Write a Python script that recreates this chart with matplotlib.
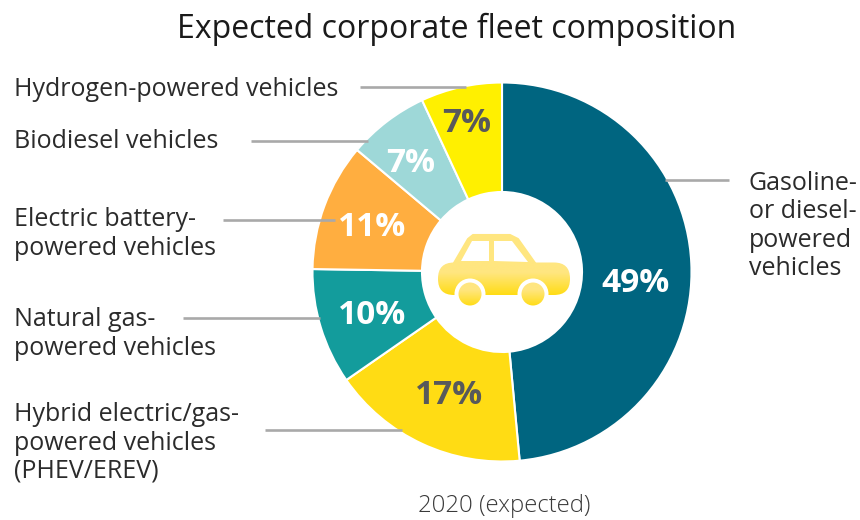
import numpy as np
import matplotlib
matplotlib.use("Agg")
import matplotlib.pyplot as plt
from matplotlib.colors import LinearSegmentedColormap
from matplotlib.patches import Circle, FancyBboxPatch, Polygon

plt.rcParams["font.family"] = ["Open Sans", "DejaVu Sans"]

# Fleet shares, clockwise from twelve o'clock
categories = [
    "Gasoline-\nor diesel-\npowered\nvehicles",
    "Hybrid electric/gas-\npowered vehicles\n(PHEV/EREV)",
    "Natural gas-\npowered vehicles",
    "Electric battery-\npowered vehicles",
    "Biodiesel vehicles",
    "Hydrogen-powered vehicles",
]
shares = [49, 17, 10, 11, 7, 7]
slice_colors = ["#006580", "#FFDC14", "#139C9C", "#FFAE40", "#9ED8D8", "#FFF000"]
value_colors = ["white", "#58595B", "white", "white", "white", "#58595B"]
title = "Expected corporate fleet composition"
caption = "2020 (expected)"

W, H = 860, 520
CX, CY, R_OUT, R_IN = 502, 272, 189.5, 80
TEXT = "#2B2B2B"
LEADER = "#A9A9A9"

fig = plt.figure(figsize=(W / 100, H / 100), dpi=100)

# Donut in its own axes, sized so that one data unit equals the outer radius
pie_ax = fig.add_axes([(CX - R_OUT) / W, 1 - (CY + R_OUT) / H, 2 * R_OUT / W, 2 * R_OUT / H])
wedges, _ = pie_ax.pie(
    shares,
    colors=slice_colors,
    startangle=90,
    counterclock=False,
    radius=1,
    wedgeprops=dict(width=1 - R_IN / R_OUT, edgecolor="white", linewidth=1.5),
)
pie_ax.set_xlim(-1, 1)
pie_ax.set_ylim(-1, 1)

# Overlay in pixel units for value labels, leaders, texts and the car icon
ov = fig.add_axes([0, 0, 1, 1], facecolor="none")
ov.axis("off")

value_pos = [(635, 283), (449, 395), (372, 316), (372, 227), (411, 163), (467, 123)]
for value, color, (x, y) in zip(shares, value_colors, value_pos):
    ov.text(x, y, f"{value}%", ha="center", va="center", fontsize=24,
            fontweight="bold", color=color, zorder=4)

# Leader lines: order follows categories
leaders = [((665, 729), 180), ((265, 402), 430), ((183, 320), 318),
           ((223, 335), 220), ((251, 368), 141), ((360, 466), 87)]
for (x0, x1), y in leaders:
    ov.plot([x0, x1], [y, y], color=LEADER, lw=1.9, solid_capstyle="butt", zorder=3)

text_pos = [(749, 226), (14, 443), (14, 334), (14, 234), (14, 141), (14, 89)]
for name, (x, y) in zip(categories, text_pos):
    ov.text(x, y, name, ha="left", va="center", fontsize=18, color=TEXT, linespacing=1.18)

ov.text(456.5, 29, title, ha="center", va="center", fontsize=23, color="#1A1A1A")
ov.text(504, 506, caption, ha="center", va="center", fontsize=17.2, color="#3A3A3A",
        fontweight="light")

# Car icon
PALE, GOLD = "#FFE680", "#FFDC14"
fade = LinearSegmentedColormap.from_list("fade", [(0, PALE), (0.32, PALE), (1, GOLD)], N=128)
ramp = np.linspace(0, 1, 128)[:, None]

roof = Polygon([(454, 263), (468, 239), (473, 235), (510, 235), (518, 239), (535, 263)],
               closed=True, facecolor=PALE, edgecolor=PALE, lw=1.5, joinstyle="round", zorder=4)
ov.add_patch(roof)
ov.add_patch(Polygon([(461, 261), (472, 241), (489, 241), (489, 261)], closed=True,
                     facecolor="white", edgecolor="none", zorder=5))
ov.add_patch(Polygon([(494, 241), (512, 241), (528, 262), (494, 261)], closed=True,
                     facecolor="white", edgecolor="none", zorder=5))

body = FancyBboxPatch((438, 262.5), 132, 32.5, boxstyle="round,pad=0,rounding_size=16",
                      facecolor="none", edgecolor="none", zorder=4)
ov.add_patch(body)
im = ov.imshow(ramp, extent=(438, 570, 295, 262.5), cmap=fade, aspect="auto", zorder=6)
im.set_clip_path(body)

for wx in (470, 533):
    ov.add_patch(Circle((wx, 294), 15.5, facecolor="white", edgecolor="none", zorder=7))
    wheel = Circle((wx, 294), 11.5, facecolor="none", edgecolor="none", zorder=7)
    ov.add_patch(wheel)
    wim = ov.imshow(ramp, extent=(wx - 12, wx + 12, 306, 282), cmap=fade, aspect="auto", zorder=8)
    wim.set_clip_path(wheel)

ov.set_xlim(0, W)
ov.set_ylim(H, 0)

fig.savefig("out.png", dpi=100, facecolor="white")
